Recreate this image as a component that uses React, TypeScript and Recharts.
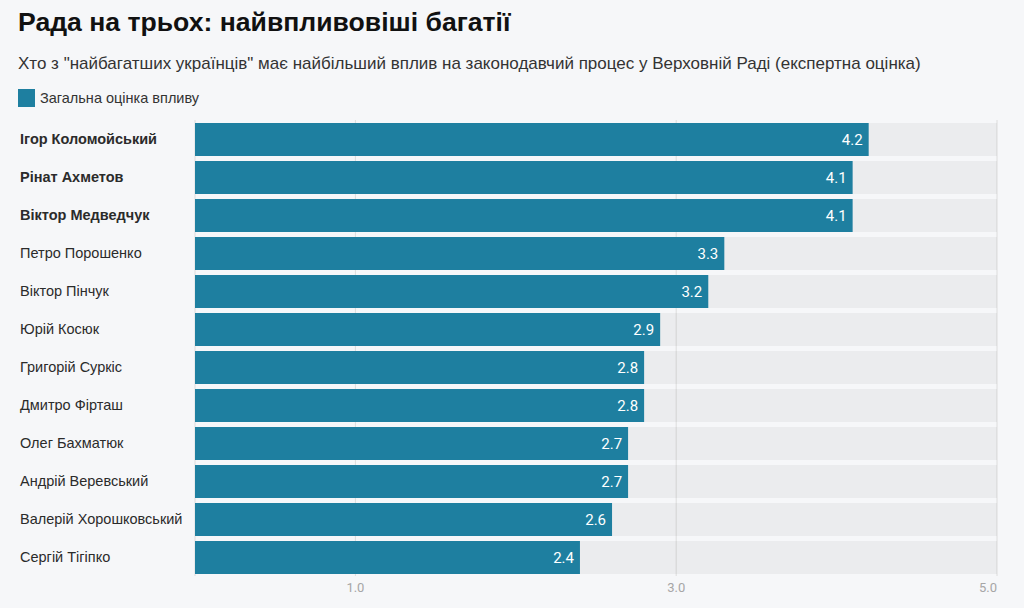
import React from "react";
import { BarChart, Bar, XAxis, YAxis, CartesianGrid, LabelList } from "recharts";

const names = [
  "Ігор Коломойський",
  "Рінат Ахметов",
  "Віктор Медведчук",
  "Петро Порошенко",
  "Віктор Пінчук",
  "Юрій Косюк",
  "Григорій Суркіс",
  "Дмитро Фірташ",
  "Олег Бахматюк",
  "Андрій Веревський",
  "Валерій Хорошковський",
  "Сергій Тігіпко",
];
const scores = [4.2, 4.1, 4.1, 3.3, 3.2, 2.9, 2.8, 2.8, 2.7, 2.7, 2.6, 2.4];
const highlighted = ["Ігор Коломойський", "Рінат Ахметов", "Віктор Медведчук"];
const xTicks = [1, 3, 5];

const title = "Рада на трьох: найвпливовіші багатії";
const subtitle =
  'Хто з "найбагатших українців" має найбільший вплив на законодавчий процес у Верховній Раді (експертна оцінка)';
const legendLabel = "Загальна оцінка впливу";

const data = names.map((name, i) => ({ name, value: scores[i] }));

const BAR = "#1e7fa0";
const BG = "#f6f7f9";
const SANS = "'Liberation Sans', Arial, sans-serif";

const NameTick = (props: any) => {
  const { y, payload } = props;
  const bold = highlighted.includes(payload.value);
  return (
    <text
      x={20}
      y={y}
      dy={5}
      textAnchor="start"
      fontFamily={SANS}
      fontSize={14.5}
      fontWeight={bold ? 700 : 400}
      fill="#2b2b2b"
    >
      {payload.value}
    </text>
  );
};

const ValueTick = (props: any) => {
  const { x, y, payload } = props;
  const last = payload.value === xTicks[xTicks.length - 1];
  return (
    <text
      x={x}
      y={y}
      dy={8}
      textAnchor={last ? "end" : "middle"}
      fontFamily="Roboto, sans-serif"
      fontSize={13}
      fill="#a6a6a6"
    >
      {payload.value.toFixed(1)}
    </text>
  );
};

export default function App() {
  return (
    <div
      style={{
        position: "absolute",
        left: 0,
        top: 0,
        width: 1024,
        height: 608,
        background: BG,
        overflow: "hidden",
      }}
    >
      <div
        style={{
          position: "absolute",
          left: 18,
          top: 7,
          fontFamily: SANS,
          fontWeight: 700,
          fontSize: 26.6,
          color: "#111",
          whiteSpace: "nowrap",
        }}
      >
        {title}
      </div>
      <div
        style={{
          position: "absolute",
          left: 18,
          top: 54,
          fontFamily: SANS,
          fontSize: 17,
          color: "#333",
          whiteSpace: "nowrap",
        }}
      >
        {subtitle}
      </div>
      <div
        style={{
          position: "absolute",
          left: 18,
          top: 89,
          display: "flex",
          alignItems: "center",
          fontFamily: SANS,
          fontSize: 14.5,
          color: "#333",
          whiteSpace: "nowrap",
        }}
      >
        <span
          style={{
            display: "inline-block",
            width: 17,
            height: 18,
            background: BAR,
            marginRight: 5,
          }}
        />
        {legendLabel}
      </div>
      <div style={{ position: "absolute", left: 0, top: 0 }}>
        <BarChart
          width={1024}
          height={608}
          data={data}
          layout="vertical"
          margin={{ top: 120, right: 27, bottom: 8, left: 0 }}
        >
          <CartesianGrid horizontal={false} stroke="#dcdcdc" />
          <XAxis
            type="number"
            domain={[0, 5]}
            ticks={xTicks}
            axisLine={false}
            tickLine={false}
            height={24}
            tick={<ValueTick />}
          />
          <YAxis
            type="category"
            dataKey="name"
            width={195}
            axisLine={false}
            tickLine={false}
            tick={<NameTick />}
            interval={0}
          />
          <Bar
            dataKey="value"
            fill={BAR}
            barSize={33}
            background={{ fill: "rgba(0,0,0,0.045)" }}
            isAnimationActive={false}
          >
            <LabelList
              dataKey="value"
              position="insideRight"
              offset={6}
              fill="#ffffff"
              fontFamily="Roboto, sans-serif"
              fontSize={15}
              formatter={(v: any) => Number(v).toFixed(1)}
            />
          </Bar>
        </BarChart>
      </div>
    </div>
  );
}
